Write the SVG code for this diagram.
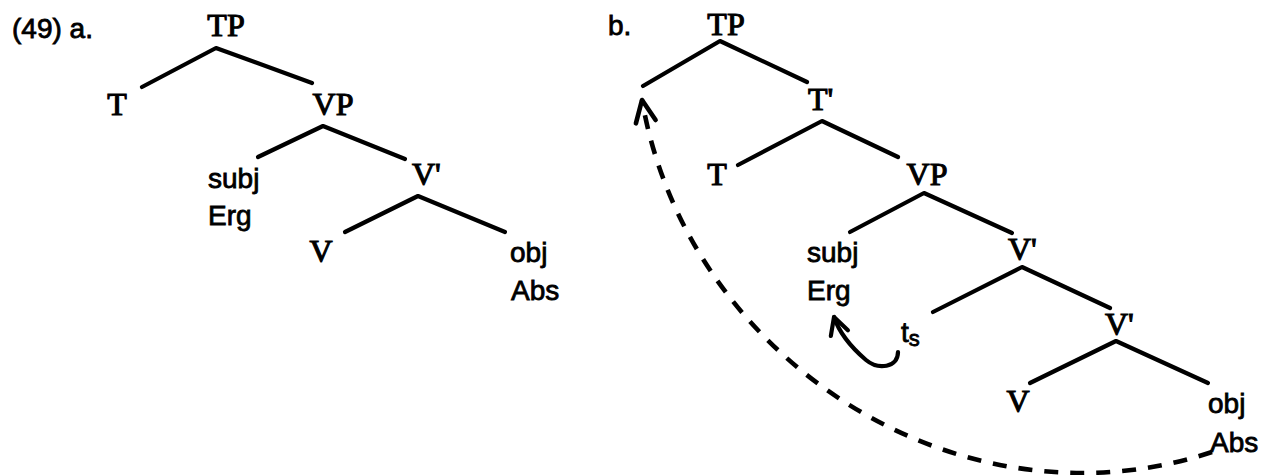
<svg xmlns="http://www.w3.org/2000/svg" width="1261" height="475" viewBox="0 0 1261 475">
<style>
.cat{font-family:"Liberation Serif","Times New Roman",serif;font-size:32px;fill:#000;stroke:#000;stroke-width:1.1}
.lex{font-family:"Liberation Sans",Arial,sans-serif;font-size:28px;fill:#000;stroke:#000;stroke-width:0.8}
.mid{text-anchor:middle}
.edge{fill:none;stroke:#000;stroke-width:4.2;stroke-linecap:round;stroke-linejoin:round}
.move{fill:none;stroke:#000;stroke-width:4.2;stroke-linecap:round}
.dash{stroke-dasharray:14 12;stroke-linecap:butt;stroke-width:4.6}
</style>
<defs>
<marker id="headBig" markerUnits="userSpaceOnUse" viewBox="-27 -15 32 30" refX="0" refY="0" markerWidth="32" markerHeight="30" orient="auto">
<path d="M -22 -10 L 0 0 L -22 10" fill="none" stroke="#000" stroke-width="4.6" stroke-linecap="round" stroke-linejoin="round"/>
</marker>
<marker id="headSmall" markerUnits="userSpaceOnUse" viewBox="-23 -13 28 26" refX="0" refY="0" markerWidth="28" markerHeight="26" orient="auto">
<path d="M -17 -9 L 0 0 L -17 9" fill="none" stroke="#000" stroke-width="4.2" stroke-linecap="round" stroke-linejoin="round"/>
</marker>
</defs>
<g id="labels">
<text class="lex" x="12" y="38">(49) a.</text>
<text class="lex" x="608" y="35">b.</text>
</g>
<g id="treeA">
<g id="a-TP"><text class="cat mid" x="226" y="36">TP</text></g>
<g id="a-T"><text class="cat mid" x="117" y="115">T</text></g>
<g id="a-VP"><text class="cat mid" x="333" y="115">VP</text></g>
<g id="a-subj"><text class="lex" x="208" y="188">subj</text><text class="lex" x="208" y="225">Erg</text></g>
<g id="a-Vbar"><text class="cat" x="412" y="185">V'</text></g>
<g id="a-V"><text class="cat mid" x="321" y="262">V</text></g>
<g id="a-obj"><text class="lex" x="510" y="262">obj</text><text class="lex" x="511" y="300">Abs</text></g>
</g>
<g id="treeB">
<g id="b-TP"><text class="cat mid" x="726" y="35">TP</text></g>
<g id="b-Tbar"><text class="cat" x="808" y="110">T'</text></g>
<g id="b-T"><text class="cat mid" x="717" y="185">T</text></g>
<g id="b-VP"><text class="cat mid" x="927" y="185">VP</text></g>
<g id="b-subj"><text class="lex" x="807" y="262">subj</text><text class="lex" x="807" y="300">Erg</text></g>
<g id="b-Vbar1"><text class="cat" x="1008" y="260">V'</text></g>
<g id="b-ts"><text class="lex" x="901" y="342">t<tspan font-size="22" dy="4">s</tspan></text></g>
<g id="b-Vbar2"><text class="cat" x="1105" y="335">V'</text></g>
<g id="b-V"><text class="cat mid" x="1018" y="412">V</text></g>
<g id="b-obj"><text class="lex" x="1208" y="413">obj</text><text class="lex" x="1210" y="452">Abs</text></g>
</g>
<g id="connectors">
<path class="edge" d="M142 87 L216 48 L312 83"/>
<path class="edge" d="M258 157 L323 126 L405 159"/>
<path class="edge" d="M345 232 L418 196 L505 232"/>
<path class="edge" d="M643 86 L720 41 L807 82"/>
<path class="edge" d="M738 165 L822 121 L898 157"/>
<path class="edge" d="M850 232 L924 193 L1012 233"/>
<path class="edge" d="M933 312 L1022 267 L1110 308"/>
<path class="edge" d="M1030 383 L1116 341 L1208 383"/>
<path class="move" d="M898 352 C898 368 878 370 866 360 C852 348 840 335 834 317" marker-end="url(#headSmall)"/>
<path class="move dash" d="M1212 452 C962 535 687.5 362.5 642 100" marker-end="url(#headBig)"/>
</g>
</svg>
